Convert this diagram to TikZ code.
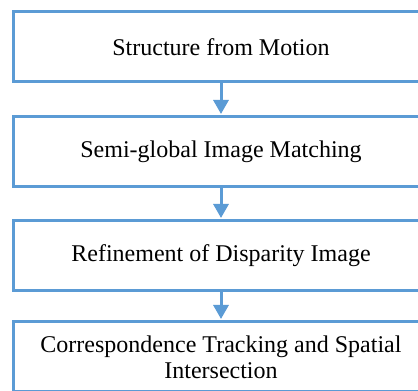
\documentclass[tikz,border=0pt]{standalone}
\usepackage{fontspec}
\setmainfont{Liberation Serif}
\usetikzlibrary{arrows.meta}
\definecolor{boxblue}{HTML}{5B9BD5}
\tikzset{
  stagebox/.style={draw=boxblue, line width=3pt, minimum width=416pt, minimum height=70pt,
    inner sep=0pt, align=center, font=\fontsize{24}{26}\selectfont},
  flowarrow/.style={draw=boxblue, line width=3pt, -{Triangle[width=15pt,length=14pt]}, shorten >=1.5pt}
}
\begin{document}
\begin{tikzpicture}[x=1pt,y=1pt]
\useasboundingbox (0,0) rectangle (418,391);
\clip (0,0) rectangle (418,391);
\fill[white] (0,0) rectangle (418,391);
\node[stagebox] (s1) at (221,344) {Structure from Motion};
\node[stagebox] (s2) at (221,239) {Semi-global Image Matching};
\node[stagebox] (s3) at (221,135) {Refinement of Disparity Image};
\node[stagebox] (s4) at (221,34) {Correspondence Tracking and Spatial\\Intersection};
\draw[flowarrow] (s1.south) -- (s2.north);
\draw[flowarrow] (s2.south) -- (s3.north);
\draw[flowarrow] (s3.south) -- (s4.north);
\end{tikzpicture}
\end{document}
